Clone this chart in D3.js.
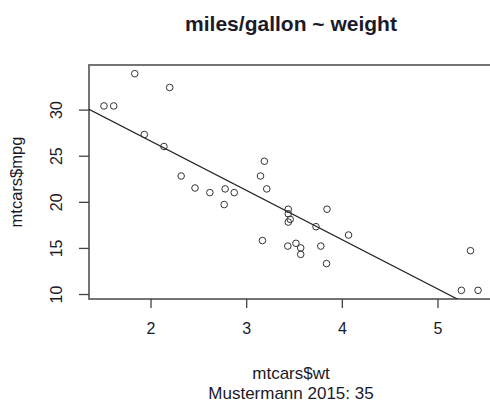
<!DOCTYPE html>
<html>
<head>
<meta charset="utf-8">
<script src="https://cdn.jsdelivr.net/npm/d3@7"></script>
<style>
  body { margin: 0; background: #fff; }
  text { font-family: "Liberation Sans", Arial, sans-serif; fill: #1a1a2a; }
</style>
</head>
<body>
<div id="chart"></div>
<script>
// mtcars: weight (1000 lbs) and miles/gallon
const wt = [2.620, 2.875, 2.320, 3.215, 3.440, 3.460, 3.570, 3.190, 3.150, 3.440, 3.440,
            4.070, 3.730, 3.780, 5.250, 5.424, 5.345, 2.200, 1.615, 1.835, 2.465, 3.520,
            3.435, 3.840, 3.845, 1.935, 2.140, 1.513, 3.170, 2.770, 3.570, 2.780]
const mpg = [21.0, 21.0, 22.8, 21.4, 18.7, 18.1, 14.3, 24.4, 22.8, 19.2, 17.8,
             16.4, 17.3, 15.2, 10.4, 10.4, 14.7, 32.4, 30.4, 33.9, 21.5, 15.5,
             15.2, 13.3, 19.2, 27.3, 26.0, 30.4, 15.8, 19.7, 15.0, 21.4]
const xTicks = [2, 3, 4, 5]
const yTicks = [10, 15, 20, 25, 30]

const width = 490, height = 403
const margin = {top: 65, right: -3, bottom: 104, left: 89}
const font = '"Liberation Sans", Arial, sans-serif'

const points = wt.map((w, i) => ({wt: w, mpg: mpg[i]}))

// least squares fit, like abline(lm(mpg ~ wt))
const mx = d3.mean(wt), my = d3.mean(mpg)
const slope = d3.sum(points, d => (d.wt - mx) * (d.mpg - my)) / d3.sum(points, d => (d.wt - mx) ** 2)
const intercept = my - slope * mx

// R style 4% padding on each side
const pad = ext => { const r = ext[1] - ext[0]; return [ext[0] - 0.04 * r, ext[1] + 0.04 * r] }
const xDom = pad(d3.extent(wt)), yDom = pad(d3.extent(mpg))

const x = d3.scaleLinear().domain(xDom).range([margin.left, width - margin.right])
const y = d3.scaleLinear().domain(yDom).range([height - margin.bottom, margin.top])

const svg = d3.select('#chart').append('svg')
    .attr('width', width)
    .attr('height', height)

svg.append('defs').append('clipPath').attr('id', 'plotclip')
  .append('rect')
    .attr('x', x.range()[0]).attr('y', y.range()[1])
    .attr('width', x.range()[1] - x.range()[0])
    .attr('height', y.range()[0] - y.range()[1])

// box
svg.append('rect')
    .attr('x', x.range()[0]).attr('y', y.range()[1])
    .attr('width', x.range()[1] - x.range()[0])
    .attr('height', y.range()[0] - y.range()[1])
    .attr('fill', 'none')
    .attr('stroke', '#666')
    .attr('stroke-width', 1.8)

// x axis
const xAxis = svg.append('g')
    .attr('transform', `translate(0, ${y.range()[0]})`)
    .call(d3.axisBottom(x).tickValues(xTicks).tickSize(9).tickPadding(15).tickFormat(d3.format('d')))
xAxis.select('.domain').remove()
xAxis.selectAll('.tick line').attr('stroke', '#444').attr('stroke-width', 1.3)
xAxis.selectAll('.tick text').attr('font-size', 16).style('font-family', font).attr('fill', '#1a1a2a')

// y axis, labels parallel to the axis
const yAxis = svg.append('g')
    .attr('transform', `translate(${x.range()[0]}, 0)`)
    .call(d3.axisLeft(y).tickValues(yTicks).tickSize(10).tickFormat(d3.format('d')))
yAxis.select('.domain').remove()
yAxis.selectAll('.tick line').attr('stroke', '#444').attr('stroke-width', 1.3)
yAxis.selectAll('.tick text')
    .attr('x', null).attr('dy', null)
    .attr('transform', 'translate(-31, 0) rotate(-90)')
    .attr('text-anchor', 'middle')
    .attr('dominant-baseline', 'middle')
    .attr('font-size', 16)
    .style('font-family', font)
    .attr('fill', '#1a1a2a')

// regression line
svg.append('line')
    .attr('clip-path', 'url(#plotclip)')
    .attr('x1', x(xDom[0])).attr('y1', y(intercept + slope * xDom[0]))
    .attr('x2', x(xDom[1])).attr('y2', y(intercept + slope * xDom[1]))
    .attr('stroke', '#222')
    .attr('stroke-width', 1.2)

// points
svg.append('g').selectAll('circle')
  .data(points)
  .join('circle')
    .attr('cx', d => x(d.wt))
    .attr('cy', d => y(d.mpg))
    .attr('r', 3.3)
    .attr('fill', 'none')
    .attr('stroke', '#333')
    .attr('stroke-width', 1)

// titles
const cx = (x.range()[0] + x.range()[1]) / 2
svg.append('text')
    .attr('x', cx).attr('y', 31)
    .attr('text-anchor', 'middle')
    .attr('font-size', 21).attr('font-weight', 'bold')
    .text('miles/gallon ~ weight')
svg.append('text')
    .attr('x', cx).attr('y', 379)
    .attr('text-anchor', 'middle')
    .attr('font-size', 17)
    .text('mtcars$wt')
svg.append('text')
    .attr('x', cx).attr('y', 399)
    .attr('text-anchor', 'middle')
    .attr('font-size', 17)
    .text('Mustermann 2015: 35')
svg.append('text')
    .attr('transform', `translate(22, ${(y.range()[0] + y.range()[1]) / 2}) rotate(-90)`)
    .attr('text-anchor', 'middle')
    .attr('font-size', 16.5)
    .text('mtcars$mpg')
</script>
</body>
</html>
